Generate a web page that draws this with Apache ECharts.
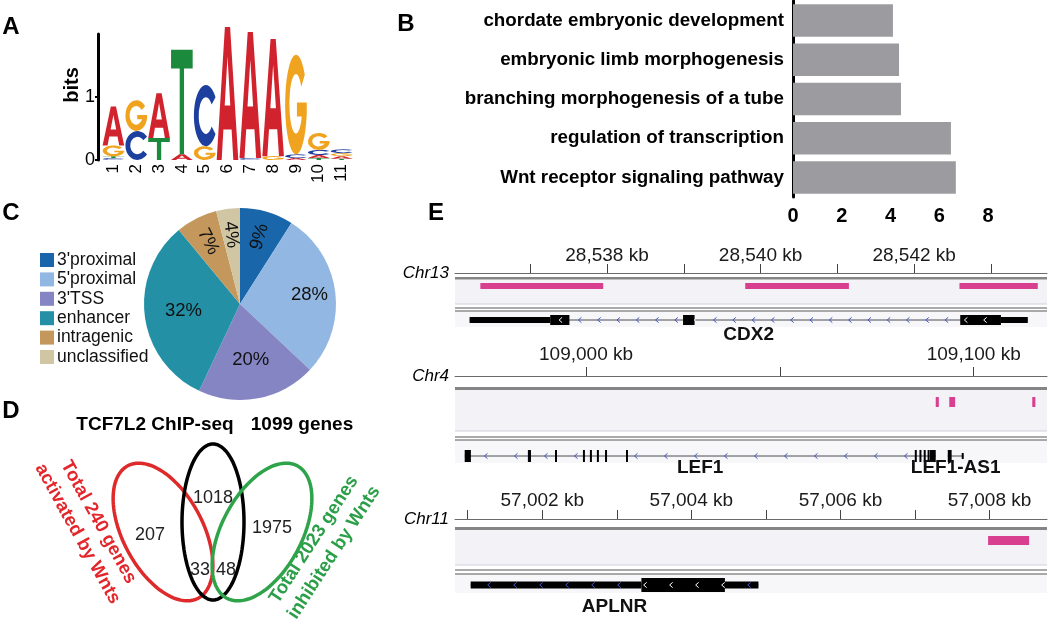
<!DOCTYPE html>
<html><head><meta charset="utf-8">
<script src="https://cdn.jsdelivr.net/npm/echarts@6/dist/echarts.min.js"></script>
<style>html,body{margin:0;padding:0;background:#fff}#c{width:1050px;height:620px}</style>
</head><body><div id="c"></div>
<script>
// ================= DATA =================
// Panel A: sequence logo (bits per letter, per position)
const logoPositions = ['1','2','3','4','5','6','7','8','9','10','11'];
const logoA = [0.62, 0.00, 0.71, 0.09, 0.00, 2.11, 2.00, 1.86, 0.03, 0.05, 0.04];
const logoC = [0.03, 0.46, 0.00, 0.00, 0.97, 0.00, 0.03, 0.00, 0.06, 0.08, 0.06];
const logoG = [0.17, 0.49, 0.00, 0.00, 0.22, 0.00, 0.00, 0.06, 1.58, 0.27, 0.05];
const logoT = [0.03, 0.00, 0.35, 1.66, 0.00, 0.00, 0.00, 0.00, 0.00, 0.03, 0.02];
const logoYTicks = [0, 1];

// Panel B: GO terms
const goTerms = ['chordate embryonic development', 'embryonic limb morphogenesis', 'branching morphogenesis of a tube', 'regulation of transcription', 'Wnt receptor signaling pathway'];
const goScores = [4.1, 4.35, 4.43, 6.48, 6.68];

// Panel C: peak distribution
const pieCategories = ["3'proximal", "5'proximal", "3'TSS", 'enhancer', 'intragenic', 'unclassified'];
const piePercents = [9, 28, 20, 32, 7, 4];

// Panel D: overlap of gene sets
const vennTitles = ['TCF7L2 ChIP-seq', '1099 genes'];
const vennSetLabels = ['Total 240 genes\nactivated by Wnts', 'Total 2023 genes\ninhibited by Wnts'];
const vennCounts = [207, 1018, 1975, 33, 48];

// Panel E: genome tracks (kb)
const chr13Ticks = [28537, 28538, 28539, 28540, 28541, 28542, 28543];
const chr13Labels = [28538, 28540, 28542];
const chr13Peaks = [[28536.35, 28537.95], [28539.80, 28541.15], [28542.59, 28543.61]];
const cdx2Exons = [[28536.21, 28537.26, 'utr'], [28537.26, 28537.51, 'cds'], [28538.99, 28539.14, 'cds'], [28542.60, 28543.13, 'cds'], [28543.13, 28543.48, 'utr']];

const chr4Ticks = [109000, 109050, 109100];
const chr4Labels = [109000, 109100];
const chr4Peaks = [[109090.2, 109091.0], [109093.7, 109095.2], [109115.1, 109115.9]];
const lef1Exons = [[108968.7, 108970.3, 'cds'], [108985.0, 108985.8, 'cds'], [108992.0, 108992.4, 'cds'], [108999.2, 108999.6, 'cds'], [109001.0, 109001.4, 'cds'], [109002.8, 109003.2, 'cds'], [109004.9, 109005.3, 'cds'], [109010.3, 109010.7, 'cds'], [109084.8, 109085.2, 'cds'], [109086.0, 109086.4, 'cds'], [109087.1, 109087.5, 'cds'], [109088.1, 109088.5, 'cds'], [109088.7, 109090.2, 'cds']];
const lef1as1Exons = [[109093.3, 109094.3, 'cds'], [109096.9, 109097.4, 'utr']];

const chr11Ticks = [57001, 57002, 57003, 57004, 57005, 57006, 57007, 57008];
const chr11Labels = [57002, 57004, 57006, 57008];
const chr11Peaks = [[57007.98, 57008.53]];
const aplnrExons = [[57001.04, 57003.33, 'utr'], [57003.33, 57004.45, 'cds'], [57004.45, 57004.90, 'utr']];

// ================= STYLE / LAYOUT =================
const FONT = 'Liberation Sans';
const LETTER = {
  A: {d: 'M0,100 L38,0 L62,0 L100,100 L77,100 L69,77 L31,77 L23,100 Z M37,59 L63,59 L50,22 Z', color: '#d0232e'},
  C: {d: 'M90,20 A50,50 0 1 0 90,80 L74,68 A30,30 0 1 1 74,32 Z', color: '#1d3f9e'},
  G: {d: 'M90,20 A50,50 0 1 0 99.2,58.7 L99.2,48 L54,48 L54,62 L76.5,62 A30,30 0 1 1 74,32 Z', color: '#f0a31e'},
  T: {d: 'M0,0 L100,0 L100,18 L60,18 L60,100 L40,100 L40,18 L0,18 Z', color: '#1c8a3c'}
};
const pieColors = ['#1966ab', '#92b7e2', '#8485c2', '#2390a6', '#c4985d', '#d0c6a4'];
const pieLabelRing = ['outer', 'outer', 'inner', 'inner', 'outer', 'outer'];
const vennShapes = [
  {cx: 163, cy: 152, rx: 40, ry: 75, tilt: 28, color: '#de2a2a'},
  {cx: 213, cy: 142, rx: 31, ry: 78, tilt: 0, color: '#000000'},
  {cx: 262, cy: 152, rx: 40, ry: 75, tilt: -28, color: '#2ea34a'}
];
const vennCountPos = [[150, 155], [213, 118], [272, 148], [200, 190], [226, 190]];

const tracks = [
  {chr: 'Chr13', top: 273, min: 28536.02, max: 28543.73, ticks: chr13Ticks, labels: chr13Labels, peaks: chr13Peaks,
   genes: [{name: 'CDX2', strand: '-', exons: cdx2Exons}],
   L: {labelMargin: 8, thick: [4, 6.5], bg: [6.5, 31], peak: [10, 16], sep: 31, dbl: [35, 38], geneBg: 54, gene: 47, cds: 5, utr: 3, label: 62, arrowGap: 19.3, utrArrows: false}},
  {chr: 'Chr4', top: 376, min: 108966.2, max: 109118.9, ticks: chr4Ticks, labels: chr4Labels, peaks: chr4Peaks,
   genes: [{name: 'LEF1', strand: '-', exons: lef1Exons}, {name: 'LEF1-AS1', strand: '+', exons: lef1as1Exons}],
   L: {labelMargin: 12, thick: [11, 14], bg: [14, 55], peak: [21, 31], sep: 55, dbl: [61, 64], geneBg: 87, gene: 80, cds: 6, utr: 3, label: 92, arrowGap: 30, utrArrows: false}},
  {chr: 'Chr11', top: 519, min: 57000.83, max: 57008.77, ticks: chr11Ticks, labels: chr11Labels, peaks: chr11Peaks,
   genes: [{name: 'APLNR', strand: '-', exons: aplnrExons}],
   L: {labelMargin: 9, thick: [8, 11], bg: [11, 46], peak: [17, 26], sep: 46, dbl: [51, 55], geneBg: 74, gene: 66, cds: 7, utr: 3.5, label: 88, arrowGap: 26, utrArrows: true}}
];
const TRACK_LEFT = 455, TRACK_W = 592, TRACK_H = 100;

// ================= RENDERERS =================
function renderLogo(params, api) {
  const col = api.value(0);
  const hs = [['A', api.value(1)], ['C', api.value(2)], ['G', api.value(3)], ['T', api.value(4)]]
    .filter(h => h[1] > 0.004).sort((a, b) => a[1] - b[1]);
  const w = api.size([1, 0])[0];
  const cx = api.coord([col, 0])[0];
  let cum = 0;
  const children = [];
  hs.forEach(([L, h]) => {
    const yb = api.coord([col, cum])[1], yt = api.coord([col, cum + h])[1];
    children.push({type: 'path', shape: {pathData: LETTER[L].d, x: cx - w / 2 + 0.6, y: yt, width: w - 1.2, height: Math.max(yb - yt, 0.4), layout: 'cover'},
      style: {fill: LETTER[L].color}});
    cum += h;
  });
  return {type: 'group', children};
}

function renderEllipse(params, api) {
  const s = vennShapes[params.dataIndex];
  const c = api.coord([api.value(0), api.value(1)]);
  const sz = api.size([1, 1]);
  const phi = s.tilt * Math.PI / 180;
  const pts = [];
  for (let k = 0; k < 120; k++) {
    const t = k / 120 * 2 * Math.PI;
    const u = s.rx * Math.cos(t) * sz[0], v = s.ry * Math.sin(t) * sz[1];
    pts.push([c[0] + u * Math.cos(phi) + v * Math.sin(phi), c[1] - u * Math.sin(phi) + v * Math.cos(phi)]);
  }
  return {type: 'polygon', shape: {points: pts}, style: {fill: 'transparent', stroke: s.color, lineWidth: 3.5}};
}

function renderCount(params, api) {
  const p = api.coord([api.value(0), api.value(1)]);
  return {type: 'text', x: p[0], y: p[1], style: {text: String(api.value(2)), fill: '#222', font: '18px ' + FONT,
    align: 'center', verticalAlign: 'middle', textAlign: 'center', textVerticalAlign: 'middle'}};
}

function frameRenderer(track) {
  return function (params, api) {
    const cs = params.coordSys, L = track.L;
    const y = off => api.coord([track.min, off])[1];
    const x0 = cs.x, w = cs.width;
    return {type: 'group', children: [
      {type: 'rect', shape: {x: x0, y: y(L.bg[0]), width: w, height: y(L.bg[1]) - y(L.bg[0])}, style: {fill: '#f3f3f7'}},
      {type: 'rect', shape: {x: x0, y: y(L.dbl[1]), width: w, height: y(L.geneBg) - y(L.dbl[1])}, style: {fill: '#f7f7f9'}},
      {type: 'rect', shape: {x: x0, y: y(L.thick[0]), width: w, height: y(L.thick[1]) - y(L.thick[0])}, style: {fill: '#858585'}},
      {type: 'line', shape: {x1: x0, y1: y(L.sep), x2: x0 + w, y2: y(L.sep)}, style: {stroke: '#cfd0dc', lineWidth: 1.2}},
      {type: 'line', shape: {x1: x0, y1: y(L.dbl[0]), x2: x0 + w, y2: y(L.dbl[0])}, style: {stroke: '#8e8e8e', lineWidth: 1.5}},
      {type: 'line', shape: {x1: x0, y1: y(L.dbl[1]), x2: x0 + w, y2: y(L.dbl[1])}, style: {stroke: '#8e8e8e', lineWidth: 1.5}}
    ]};
  };
}

function peakRenderer(track) {
  return function (params, api) {
    const L = track.L;
    const a = api.coord([api.value(0), L.peak[0]]);
    const b = api.coord([api.value(1), L.peak[1]]);
    return {type: 'rect', shape: {x: a[0], y: a[1], width: Math.max(b[0] - a[0], 2.5), height: b[1] - a[1]}, style: {fill: '#d83f8e'}};
  };
}

function geneRenderer(track) {
  return function (params, api) {
    const g = track.genes[params.dataIndex], L = track.L;
    const xs = api.coord([api.value(0), L.gene])[0], xe = api.coord([api.value(1), L.gene])[0];
    const yc = api.coord([api.value(0), L.gene])[1];
    const hpx = off => api.coord([api.value(0), L.gene + off])[1] - yc;
    const ch = [];
    ch.push({type: 'line', shape: {x1: xs, y1: yc, x2: xe, y2: yc}, style: {stroke: '#4a4a52', lineWidth: 1}});
    const exPx = g.exons.map(e => {
      const x1 = api.coord([e[0], 0])[0], x2 = api.coord([e[1], 0])[0];
      return {x1, x2: Math.max(x2, x1 + 2), type: e[2]};
    });
    exPx.forEach(e => {
      const hh = hpx(e.type === 'cds' ? L.cds : L.utr);
      ch.push({type: 'rect', shape: {x: e.x1, y: yc - hh, width: e.x2 - e.x1, height: 2 * hh}, style: {fill: '#000'}});
    });
    for (let x = xs + L.arrowGap * 0.7; x < xe - 3; x += L.arrowGap) {
      const inEx = exPx.find(e => x >= e.x1 - 1 && x <= e.x2 + 1);
      if (inEx && (inEx.x2 - inEx.x1) < 8) continue;
      if (inEx && inEx.type === 'utr' && !L.utrArrows) continue;
      const col = inEx && inEx.type === 'cds' ? '#ffffff' : '#4255c8';
      const d = g.strand === '-' ? 1 : -1;
      ch.push({type: 'polyline', shape: {points: [[x + 1.8 * d, yc - 2.6], [x - 1.2 * d, yc], [x + 1.8 * d, yc + 2.6]]},
        style: {stroke: col, lineWidth: 1, fill: null}});
    }
    const ly = api.coord([api.value(0), L.label])[1];
    ch.push({type: 'text', x: (xs + xe) / 2, y: ly, style: {text: g.name, fill: '#111', font: 'bold 19px ' + FONT,
      align: 'center', verticalAlign: 'middle', textAlign: 'center', textVerticalAlign: 'middle'}});
    return {type: 'group', children: ch};
  };
}

// ================= OPTION =================
const grids = [], xAxes = [], yAxes = [], series = [];

// --- A: logo (grid 0)
grids.push({left: 102, top: 34, width: 251, height: 126});
xAxes.push({gridIndex: 0, type: 'category', data: logoPositions, axisLine: {show: false}, axisTick: {show: false},
  axisLabel: {rotate: 90, fontSize: 17, color: '#000', fontFamily: FONT, margin: 4}});
yAxes.push({gridIndex: 0, type: 'value', min: 0, max: 2, offset: 4, splitLine: {show: false},
  axisLine: {show: true, lineStyle: {color: '#000', width: 3}},
  axisTick: {show: true, customValues: logoYTicks, length: 3, lineStyle: {color: '#000', width: 2}},
  axisLabel: {customValues: logoYTicks, fontSize: 18, color: '#000', fontFamily: FONT, margin: 3}});
series.push({type: 'custom', xAxisIndex: 0, yAxisIndex: 0, renderItem: renderLogo, silent: true,
  encode: {x: 0, y: 1}, data: logoPositions.map((p, i) => [i, logoA[i], logoC[i], logoG[i], logoT[i]])});

// --- B: GO bars (grid 1)
grids.push({left: 793, top: 1, width: 195, height: 196});
xAxes.push({gridIndex: 1, type: 'value', min: 0, max: 8, interval: 2, splitLine: {show: false},
  axisLine: {lineStyle: {color: '#000', width: 3}}, axisTick: {length: 7, lineStyle: {color: '#000', width: 2.5}},
  axisLabel: {fontSize: 20, fontWeight: 'bold', color: '#000', fontFamily: FONT, margin: 9}});
yAxes.push({gridIndex: 1, type: 'category', data: goTerms, inverse: true,
  axisLine: {lineStyle: {color: '#000', width: 3}},
  axisTick: {alignWithLabel: true, length: 6, lineStyle: {color: '#000', width: 2.5}},
  axisLabel: {fontSize: 18.8, fontWeight: 'bold', color: '#000', fontFamily: FONT, margin: 9}});
series.push({type: 'bar', xAxisIndex: 1, yAxisIndex: 1, data: goScores, barCategoryGap: '17%', silent: true,
  itemStyle: {color: '#9c9ca0'}});

// --- C: pie
series.push({type: 'pie', center: [240, 304], radius: 96, startAngle: 90, clockwise: true, silent: true,
  label: {show: false}, labelLine: {show: false}, emphasis: {disabled: true},
  data: pieCategories.map((n, i) => ({name: n, value: piePercents[i], itemStyle: {color: pieColors[i]}}))});
[['outer', [38, 96]], ['inner', [12, 96]]].forEach(([ring, radius]) => {
  series.push({type: 'pie', center: [240, 304], radius, startAngle: 90, clockwise: true, silent: true,
    labelLine: {show: false}, emphasis: {disabled: true}, itemStyle: {color: 'rgba(0,0,0,0)'},
    label: {show: true, position: 'inside', formatter: '{c}%', fontSize: 18.5, color: '#111', fontFamily: FONT},
    data: pieCategories.map((n, i) => ({name: n, value: piePercents[i], itemStyle: {color: 'rgba(0,0,0,0)'},
      label: {show: pieLabelRing[i] === ring, rotate: piePercents[i] < 10 ? 'radial' : 0}}))});
});

// --- D: venn (grid 2)
grids.push({left: 0, top: 380, width: 350, height: 240});
xAxes.push({gridIndex: 2, type: 'value', min: 0, max: 350, show: false});
yAxes.push({gridIndex: 2, type: 'value', min: 0, max: 240, inverse: true, show: false});
series.push({type: 'custom', xAxisIndex: 2, yAxisIndex: 2, renderItem: renderEllipse, silent: true, z: 3,
  data: vennShapes.map(s => [s.cx, s.cy])});
series.push({type: 'custom', xAxisIndex: 2, yAxisIndex: 2, renderItem: renderCount, silent: true, z: 4,
  data: vennCounts.map((c, i) => [vennCountPos[i][0], vennCountPos[i][1], c])});

// --- E: tracks (grids 3..5)
tracks.forEach((t, k) => {
  const gi = 3 + k;
  grids.push({left: TRACK_LEFT, top: t.top, width: TRACK_W, height: TRACK_H});
  xAxes.push({gridIndex: gi, type: 'value', position: 'top', min: t.min, max: t.max, splitLine: {show: false},
    axisLine: {lineStyle: {color: '#6a6a6a', width: 1}},
    axisTick: {customValues: t.ticks, length: 9, lineStyle: {color: '#444', width: 1}},
    axisLabel: {customValues: t.labels, fontSize: 19, color: '#1a1a1a', fontFamily: FONT, margin: t.L.labelMargin,
      formatter: v => Math.round(v).toLocaleString('en-US') + ' kb'}});
  yAxes.push({gridIndex: gi, type: 'value', min: 0, max: TRACK_H, inverse: true, show: false});
  series.push({type: 'custom', xAxisIndex: gi, yAxisIndex: gi, z: 1, silent: true, renderItem: frameRenderer(t), data: [[t.min, 0]]});
  series.push({type: 'custom', xAxisIndex: gi, yAxisIndex: gi, z: 2, silent: true, renderItem: peakRenderer(t), data: t.peaks});
  series.push({type: 'custom', xAxisIndex: gi, yAxisIndex: gi, z: 3, silent: true, renderItem: geneRenderer(t),
    data: t.genes.map(g => [g.exons[0][0], g.exons[g.exons.length - 1][1]])});
});

// --- static text
const txt = (x, y, text, font, extra) => Object.assign({type: 'text', x, y, silent: true,
  style: Object.assign({text, font, fill: '#000', align: 'center', verticalAlign: 'middle', textAlign: 'center', textVerticalAlign: 'middle'}, (extra && extra.style) || {})},
  extra ? {rotation: extra.rotation || 0} : {});
const graphic = [
  txt(11, 27, 'A', 'bold 24px ' + FONT),
  txt(406, 24, 'B', 'bold 24px ' + FONT),
  txt(11, 213, 'C', 'bold 24px ' + FONT),
  txt(11, 411, 'D', 'bold 24px ' + FONT),
  txt(436, 213, 'E', 'bold 24px ' + FONT),
  txt(72, 85, 'bits', 'bold 20px ' + FONT, {rotation: Math.PI / 2}),
  txt(155, 425, vennTitles[0], 'bold 19px ' + FONT),
  txt(302, 425, vennTitles[1], 'bold 19px ' + FONT),
  txt(88, 528, vennSetLabels[0], 'bold 18.5px ' + FONT, {rotation: -61 * Math.PI / 180, style: {fill: '#e3262b', lineHeight: 24}}),
  txt(324, 546, vennSetLabels[1], 'bold 18.5px ' + FONT, {rotation: 57 * Math.PI / 180, style: {fill: '#2b9e48', lineHeight: 24}})
];
tracks.forEach(t => graphic.push(txt(449, t.top, t.chr, 'italic 17px ' + FONT, {style: {align: 'right', textAlign: 'right'}})));

const option = {
  animation: false,
  backgroundColor: '#ffffff',
  textStyle: {fontFamily: FONT},
  grid: grids, xAxis: xAxes, yAxis: yAxes, series,
  legend: {data: pieCategories, orient: 'vertical', left: 40, top: 251, itemWidth: 14, itemHeight: 14, itemGap: 1.4,
    icon: 'rect', padding: 0, selectedMode: false,
    textStyle: {fontSize: 17.5, color: '#111', fontFamily: FONT, lineHeight: 14, padding: [0, 0, 0, -2]}},
  graphic
};
const chart = echarts.init(document.getElementById('c'), null, {renderer: 'canvas'});
chart.setOption(option);
</script>
</body></html>
